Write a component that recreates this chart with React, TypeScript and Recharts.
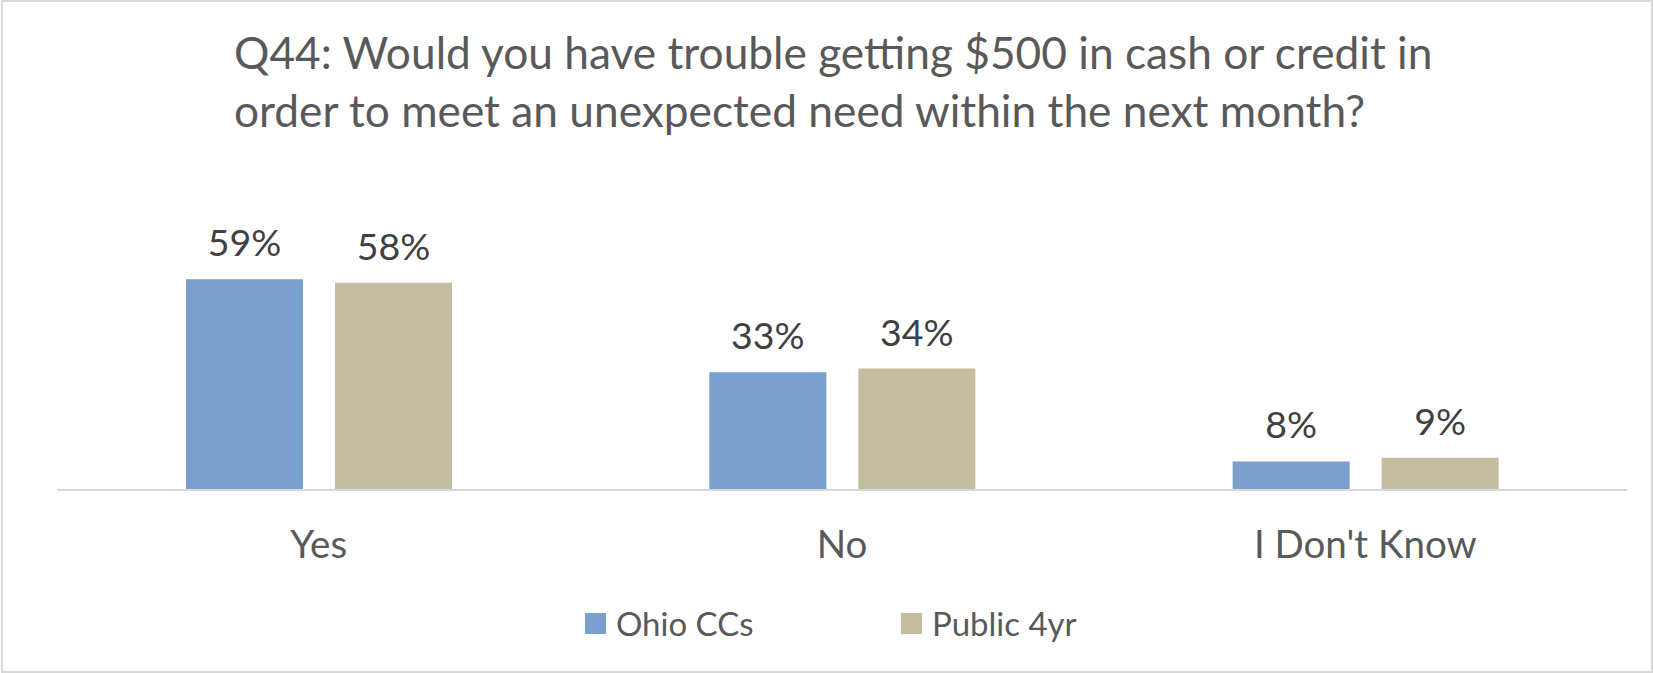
import React from "react";
import { BarChart, Bar, XAxis, YAxis, Legend, LabelList } from "recharts";

const categories = ["Yes", "No", "I Don't Know"];
const ohioCCs = [0.59, 0.33, 0.08];
const public4yr = [0.58, 0.34, 0.09];
const seriesNames = ["Ohio CCs", "Public 4yr"];
const seriesColors = ["#7ba0cd", "#c4bd9f"];
const titleLines = [
  "Q44: Would you have trouble getting $500 in cash or credit in",
  "order to meet an unexpected need within the next month?",
];

const data = categories.map((c, i) => ({
  name: c,
  ohio: ohioCCs[i],
  pub: public4yr[i],
}));

const FONT = "Lato, 'Open Sans', sans-serif";
const W = 1653;
const H = 673;

const pct = (v: any) => `${Math.round(Number(v) * 100)}%`;

const CatTick = (props: any) => {
  const { x, y, payload } = props;
  return (
    <text
      x={x}
      y={y + 68}
      textAnchor="middle"
      fill="#595959"
      fontSize={38.5}
      fontFamily={FONT}
    >
      {payload.value}
    </text>
  );
};

const LegendContent = (props: any) => {
  const items = props.payload || [];
  return (
    <div
      style={{
        height: 60,
        display: "flex",
        alignItems: "center",
        paddingLeft: 585,
        boxSizing: "border-box",
      }}
    >
      {items.map((it: any) => (
        <div
          key={it.value}
          style={{ width: 316, display: "flex", alignItems: "center" }}
        >
          <div
            style={{
              width: 21,
              height: 21,
              background: it.color,
              marginRight: 10,
            }}
          />
          <span
            style={{
              fontFamily: FONT,
              fontSize: 33,
              color: "#595959",
              lineHeight: "normal",
            }}
          >
            {it.value}
          </span>
        </div>
      ))}
    </div>
  );
};

export default function App() {
  return (
    <div
      style={{
        position: "absolute",
        left: 0,
        top: 0,
        width: W,
        height: H,
        background: "#ffffff",
      }}
    >
      <BarChart
        width={W}
        height={H}
        data={data}
        margin={{ top: 240, right: 26, bottom: 20, left: 57 }}
        barGap={32}
      >
        <XAxis
          dataKey="name"
          axisLine={{ stroke: "#d9d9d9", strokeWidth: 2 }}
          tickLine={false}
          tickSize={0}
          tickMargin={0}
          height={103}
          tick={<CatTick />}
          interval={0}
        />
        <YAxis hide domain={[0, 0.7]} />
        <Legend
          verticalAlign="bottom"
          content={<LegendContent />}
          wrapperStyle={{ left: 0, width: W }}
        />
        <Bar
          dataKey="ohio"
          name={seriesNames[0]}
          fill={seriesColors[0]}
          barSize={117}
          isAnimationActive={false}
        >
          <LabelList
            dataKey="ohio"
            position="top"
            offset={23}
            formatter={pct}
            fill="#404040"
            fontSize={37.5}
            fontFamily={FONT}
          />
        </Bar>
        <Bar
          dataKey="pub"
          name={seriesNames[1]}
          fill={seriesColors[1]}
          barSize={117}
          isAnimationActive={false}
        >
          <LabelList
            dataKey="pub"
            position="top"
            offset={23}
            formatter={pct}
            fill="#404040"
            fontSize={37.5}
            fontFamily={FONT}
          />
        </Bar>
      </BarChart>
      <svg
        width={W}
        height={H}
        style={{ position: "absolute", left: 0, top: 0, pointerEvents: "none" }}
      >
        <rect
          x={2}
          y={1}
          width={1650}
          height={671}
          fill="none"
          stroke="#d9d9d9"
          strokeWidth={2}
        />
        {titleLines.map((t, i) => (
          <text
            key={i}
            x={234}
            y={69 + i * 58}
            fill="#595959"
            fontSize={44.25}
            fontFamily={FONT}
          >
            {t}
          </text>
        ))}
      </svg>
    </div>
  );
}
